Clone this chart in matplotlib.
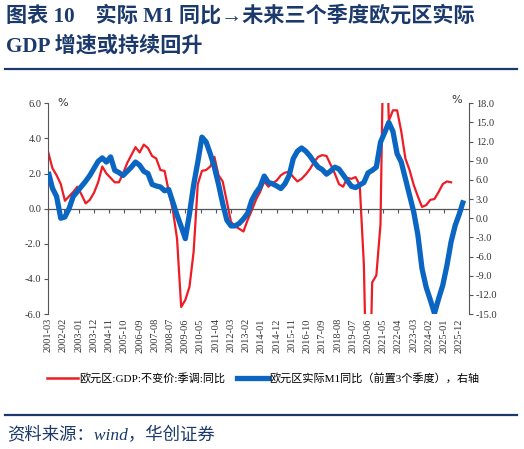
import numpy as np
import pandas as pd
import matplotlib
matplotlib.use("Agg")
import matplotlib.pyplot as plt
from matplotlib.lines import Line2D

plt.rcParams['font.family'] = ['Liberation Serif', 'Noto Sans CJK SC', 'DejaVu Sans']

# euro area real GDP yoy, quarterly from 2001Q1 (left axis, %)
gdp_yoy = [3.2, 2.3, 1.9, 1.4, 0.45, 0.7, 0.95, 1.25, 0.8, 0.3,
           0.5, 0.9, 1.5, 2.4, 2.0, 1.75, 1.5, 1.5, 2.0, 2.6,
           3.05, 3.5, 3.2, 3.65, 3.45, 3.0, 2.85, 2.2, 2.15, 1.0,
           -0.1, -1.7, -5.6, -5.2, -4.45, -2.45, 1.4, 2.15, 2.2, 2.4,
           2.95, 1.9, 1.55, 0.4, -0.75, -1.0, -1.15, -1.3, -0.65, -0.1,
           0.5, 0.95, 1.55, 1.25, 1.45, 1.6, 1.9, 2.05, 2.1, 1.8,
           1.55, 1.7, 1.95, 2.25, 2.65, 2.95, 3.05, 3.0, 2.5, 2.0,
           1.4, 1.25, 1.75, 1.7, 1.8, 1.35, -3.2, -14.5, -4.2, -3.8,
           -0.9, 14.2, 5.0, 5.6, 5.6, 4.4, 2.85, 2.2, 1.35, 0.7,
           0.1, 0.2, 0.5, 0.55, 0.95, 1.4, 1.55, 1.5]

# real M1 yoy, led by 3 quarters, quarterly from 2001Q1 (right axis, %)
m1_real_lead = [7.25, 4.7, 3.4, 0.0, 0.2, 1.5, 3.4, 4.2, 5.0, 5.8,
                6.7, 7.8, 8.9, 9.45, 8.8, 9.6, 7.5, 7.15, 6.7, 7.35,
                8.0, 8.8, 8.3, 7.35, 7.0, 5.3, 5.05, 4.9, 4.3, 4.5,
                2.5, 0.5, -1.3, -3.2, 0.7, 5.2, 8.8, 12.7, 11.95, 10.1,
                8.0, 5.3, 2.3, -0.3, -1.2, -1.2, -0.8, -0.1, 0.75, 2.8,
                4.0, 4.9, 6.6, 5.6, 5.4, 5.05, 4.65, 5.4, 6.7, 9.35,
                10.5, 11.0, 10.5, 9.75, 8.8, 8.0, 7.6, 6.9, 7.4, 8.0,
                7.7, 6.8, 5.9, 5.0, 4.8, 5.2, 5.6, 7.1, 7.5, 8.0,
                11.9, 13.4, 15.0, 13.6, 10.1, 8.8, 6.2, 3.6, 1.0, -2.6,
                -7.9, -10.8, -12.8, -14.9, -12.6, -10.5, -7.4, -3.7, -1.1, 0.7,
                2.8]

tick_labels = ['2001-03', '2002-02', '2003-01', '2003-12', '2004-11', '2005-10',
               '2006-09', '2007-08', '2008-07', '2009-06', '2010-05', '2011-04',
               '2012-03', '2013-02', '2014-01', '2014-12', '2015-11', '2016-10',
               '2017-09', '2018-08', '2019-07', '2020-06', '2021-05', '2022-04',
               '2023-03', '2024-02', '2025-01', '2025-12']

start = pd.Period('2001-03', freq='M')


def months_from_start(labels):
    return [(pd.Period(s, freq='M') - start).n for s in labels]


q_gdp = pd.period_range('2001Q1', periods=len(gdp_yoy), freq='Q')
q_m1 = pd.period_range('2001Q1', periods=len(m1_real_lead), freq='Q')
x_gdp = months_from_start([p.asfreq('M', 'end').strftime('%Y-%m') for p in q_gdp])
x_m1 = months_from_start([p.asfreq('M', 'end').strftime('%Y-%m') for p in q_m1])
x_ticks = months_from_start(tick_labels)

RED = '#EE1C25'
BLUE = '#0A66C2'
NAVY = '#1B3A6B'
AXC = '#555555'

W, H = 524, 449
fig = plt.figure(figsize=(W / 100, H / 100), dpi=100)
ax = fig.add_axes([48.3 / W, 1 - 314 / H, (468.8 - 48.3) / W, (314 - 103.3) / H])
ax2 = ax.twinx()

ax.plot(x_gdp, gdp_yoy, color=RED, lw=1.6, solid_joinstyle='round')
ax2.plot(x_m1, m1_real_lead, color=BLUE, lw=3.8, solid_joinstyle='round',
         solid_capstyle='butt')

ax.set_xlim(0, 303.8)
ax.set_ylim(-6, 6)
ax2.set_ylim(-15, 18)
ax.set_yticks(np.arange(-6, 6.1, 2))
ax2.set_yticks(np.arange(-15, 18.1, 3))
ax.set_yticklabels([f'{v:.1f}' for v in np.arange(-6, 6.1, 2)])
ax2.set_yticklabels([f'{v:.1f}' for v in np.arange(-15, 18.1, 3)])

for a in (ax, ax2):
    a.spines['top'].set_visible(False)
    a.set_facecolor('none')
ax2.spines['bottom'].set_visible(False)
ax2.spines['left'].set_visible(False)
ax.spines['right'].set_visible(False)
ax.spines['left'].set_color(AXC)
ax2.spines['right'].set_color(AXC)
ax.spines['bottom'].set_position(('data', 0))
ax.spines['bottom'].set_color(AXC)
ax.spines['bottom'].set_linewidth(0.9)

ax.set_xticks(x_ticks)
ax.set_xticklabels([])
ax.tick_params(axis='x', direction='out', length=3, width=0.8, color=AXC)
ax.tick_params(axis='y', direction='out', length=3, width=0.8, color=AXC,
               labelsize=7.5, labelcolor='#333333', pad=2)
ax2.tick_params(axis='y', direction='out', length=3, width=0.8, color=AXC,
                labelsize=7.5, labelcolor='#333333', pad=2)

sec = ax.secondary_xaxis(0)
sec.set_xticks(x_ticks)
sec.set_xticklabels(tick_labels, rotation=90, fontsize=7.5, color='#333333')
sec.tick_params(length=0, pad=3)
sec.spines['bottom'].set_visible(False)

ax.text(0.022, 1.0, '%', transform=ax.transAxes, fontsize=8, va='center',
        ha='left', color='#333333', family=['DejaVu Sans'])
ax2.text(0.985, 1.015, '%', transform=ax.transAxes, fontsize=8, va='center',
         ha='right', color='#333333', family=['DejaVu Sans'])

handles = [Line2D([], [], color=RED, lw=1.8), Line2D([], [], color=BLUE, lw=3.8)]
labels = ['欧元区:GDP:不变价:季调:同比', '欧元区实际M1同比（前置3个季度），右轴']
fig.legend(handles, labels, loc='center', bbox_to_anchor=(263 / W, 1 - 378 / H),
           ncol=2, frameon=False, fontsize=8, handlelength=2.8,
           handletextpad=0.1, columnspacing=1.0)

# title block and rules
fig.text(6 / W, 1 - 6 / H, '图表 10    实际 M1 同比→未来三个季度欧元区实际',
         fontsize=15.2, fontweight='bold', color=NAVY, va='top', ha='left')
fig.text(6 / W, 1 - 36 / H, 'GDP 增速或持续回升',
         fontsize=15.2, fontweight='bold', color=NAVY, va='top', ha='left')
fig.add_artist(Line2D([5 / W, 517 / W], [1 - 69 / H, 1 - 69 / H], color=NAVY, lw=1.6))
fig.add_artist(Line2D([5 / W, 517 / W], [1 - 415 / H, 1 - 415 / H], color=NAVY, lw=1.6))
fig.text(7 / W, 1 - 436 / H, '资料来源：wind，华创证券', fontsize=12.5, style='italic',
         color=NAVY, va='center', ha='left')

fig.savefig('out.png', dpi=100)
